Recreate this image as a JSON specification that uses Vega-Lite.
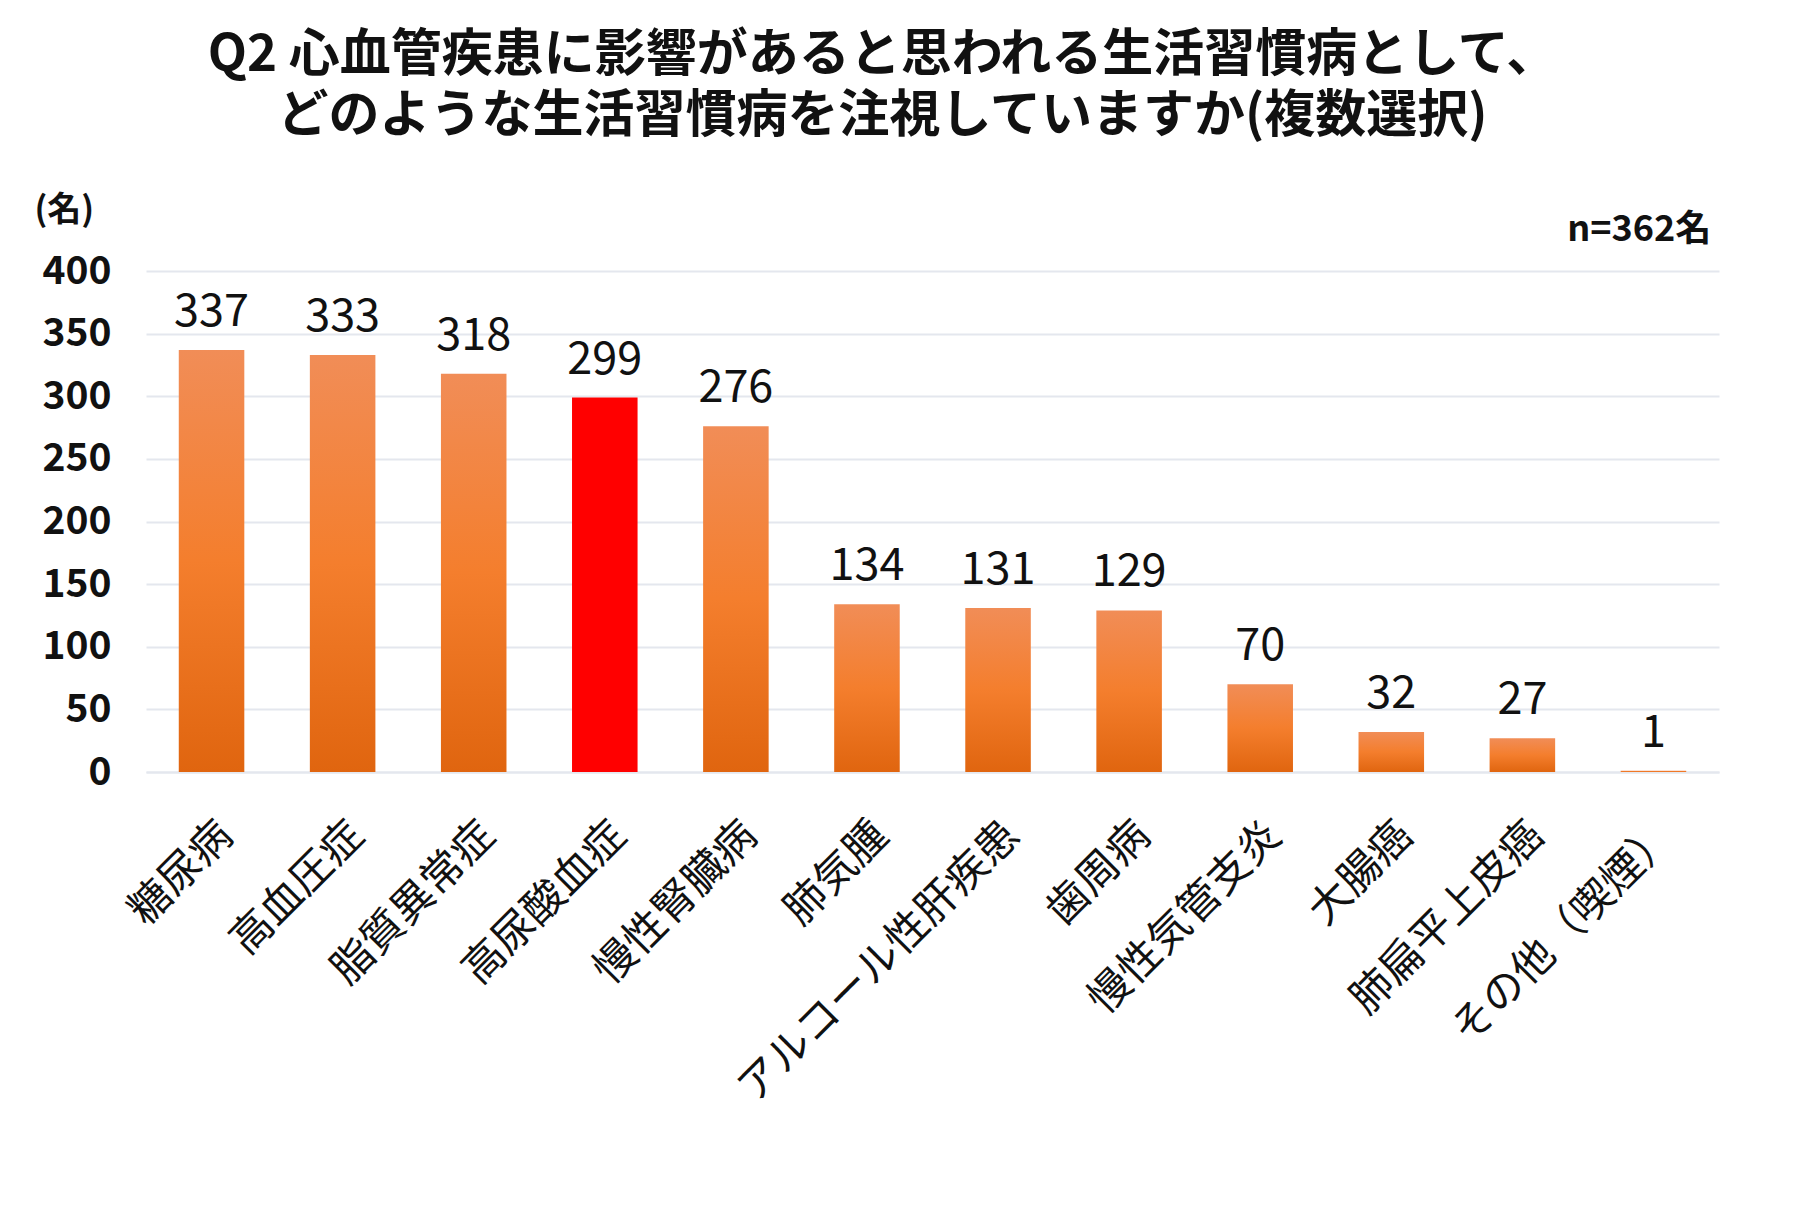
{
  "$schema": "https://vega.github.io/schema/vega-lite/v6.json",
  "width": 1573,
  "height": 501,
  "autosize": {"type": "none"},
  "padding": {"left": 146, "top": 271, "right": 81, "bottom": 449},
  "background": "white",
  "config": {"font": "Noto Sans CJK JP", "view": {"stroke": null}},
  "title": {
    "text": ["Q2 心血管疾患に影響があると思われる生活習慣病として、", "どのような生活習慣病を注視していますか(複数選択)"],
    "fontSize": 51,
    "fontWeight": "bold",
    "lineHeight": 61,
    "color": "#111111",
    "anchor": "middle",
    "dx": -50,
    "offset": 50
  },
  "data": {
    "values": [
      {"name": "糖尿病", "value": 337},
      {"name": "高血圧症", "value": 333},
      {"name": "脂質異常症", "value": 318},
      {"name": "高尿酸血症", "value": 299},
      {"name": "慢性腎臓病", "value": 276},
      {"name": "肺気腫", "value": 134},
      {"name": "アルコール性肝疾患", "value": 131},
      {"name": "歯周病", "value": 129},
      {"name": "慢性気管支炎", "value": 70},
      {"name": "大腸癌", "value": 32},
      {"name": "肺扁平上皮癌", "value": 27},
      {"name": "その他（喫煙）", "value": 1}
    ]
  },
  "encoding": {
    "x": {
      "field": "name",
      "type": "nominal",
      "sort": null,
      "scale": {"paddingInner": 0.5, "paddingOuter": 0.25},
      "axis": {
        "title": null,
        "labelAngle": -45,
        "labelFontSize": 42,
        "labelColor": "#111111",
        "labelPadding": 42,
        "labelLimit": 700,
        "ticks": false,
        "domain": true,
        "domainColor": "#E4E7EE",
        "domainWidth": 2
      }
    },
    "y": {
      "field": "value",
      "type": "quantitative",
      "scale": {"domain": [0, 400], "nice": false},
      "axis": {
        "values": [0, 50, 100, 150, 200, 250, 300, 350, 400],
        "grid": true,
        "gridColor": "#E4E7EE",
        "gridWidth": 2,
        "domain": false,
        "ticks": false,
        "labelFontSize": 39,
        "labelFontWeight": "bold",
        "labelColor": "#111111",
        "labelPadding": 35,
        "title": "(名)",
        "titleAngle": 0,
        "titleX": -112,
        "titleY": -61,
        "titleAlign": "left",
        "titleBaseline": "middle",
        "titleFontSize": 34,
        "titleFontWeight": "bold",
        "titleColor": "#111111"
      }
    }
  },
  "layer": [
    {
      "mark": {"type": "bar"},
      "encoding": {
        "color": {
          "condition": {"test": "datum.name === '高尿酸血症'", "value": "#FF0000"},
          "value": {
            "gradient": "linear",
            "x1": 0, "y1": 0, "x2": 0, "y2": 1,
            "stops": [
              {"offset": 0, "color": "#F18D57"},
              {"offset": 0.5, "color": "#F47E2D"},
              {"offset": 1, "color": "#E0650F"}
            ]
          }
        }
      }
    },
    {
      "mark": {"type": "text", "baseline": "alphabetic", "dy": -24, "fontSize": 45, "color": "#111111"},
      "encoding": {"text": {"field": "value", "type": "quantitative"}}
    },
    {
      "transform": [{"filter": "datum.name === 'その他（喫煙）'"}],
      "mark": {"type": "text", "align": "right", "baseline": "alphabetic", "dy": -30, "dx": 25, "fontSize": 36, "fontWeight": "bold", "color": "#111111", "text": "n=362名"},
      "encoding": {
        "x": {"field": "name", "type": "nominal", "sort": null, "bandPosition": 1},
        "y": {"datum": 400, "type": "quantitative"}
      }
    }
  ]
}
